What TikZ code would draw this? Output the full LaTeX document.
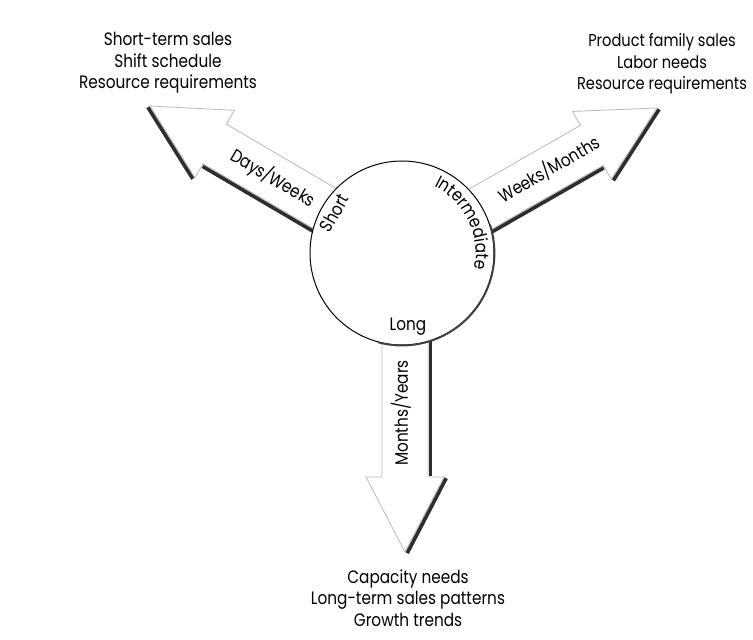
\documentclass[tikz,border=0pt]{standalone}
\usepackage{fontspec}
\setmainfont[FakeStretch=0.85]{Poppins}
\usetikzlibrary{decorations.text}
\newcommand\lblfont{\fontsize{18}{21.5}\selectfont}
\newcommand\planarrow[4]{% tip, angle, length, side
  \begin{scope}[shift={#1},rotate=#2,yscale=#4]
    \draw[arrowbody] (0,0) -- (-75,39) -- (-75,23) -- (-#3,23) -- (-#3,-23) -- (-75,-23) -- (-75,-39) -- cycle;
    \draw[shadowline] (1.2,2.2) -- (-73.8,41.2);
    \draw[shadowline] (-76,25.5) -- (-#3,25.5);
  \end{scope}}
\begin{document}
\begin{tikzpicture}[x=1pt,y=1pt,
  lbl/.style={font=\lblfont, inner sep=0pt},
  blk/.style={lbl, align=center},
  arrowbody/.style={draw=gray!55, line width=0.8pt, fill=white},
  shadowline/.style={draw=black!82, line width=3.6pt}]
\useasboundingbox (0,0) rectangle (753,640);
% arrows
\planarrow{(150,534)}{149.6}{292}{1}
\planarrow{(657,532)}{29.8}{293}{-1}
\planarrow{(405,88)}{-90}{299}{1}
% hub
\node[circle, draw=black, line width=1pt, fill=white, minimum size=184pt, inner sep=0pt] (hub) at (402,387) {};
\draw[black!75, line width=1.8pt] ([shift={(-105:92.5)}]hub.center) arc[start angle=-105, end angle=18, radius=92.5];
% circle labels
\node[lbl, rotate=60] (short) at (334,427) {Short};
\node[lbl] (long) at (408,313) {Long};
\path[decorate, decoration={text along path, text={|\lblfont|Intermediate}, text align=center}]
  ([shift={(70:74)}]hub.center) arc[start angle=70, end angle=-18, radius=74];
% arrow labels
\node[lbl, rotate=-30.4] (dw) at (273,462) {Days/Weeks};
\node[lbl, rotate=30.2] (wm) at (549,471) {Weeks/Months};
\node[lbl, rotate=90] (my) at (401,227) {Months/Years};
% outcome blocks
\node[blk] (tl) at (168,577) {Short-term sales\\Shift schedule\\Resource requirements};
\node[blk, font=\fontsize{17.2}{21.5}\selectfont] (tr) at (662,576) {Product family sales\\Labor needs\\Resource requirements};
\node[blk] (bt) at (408,42) {Capacity needs\\Long-term sales patterns\\Growth trends};
\end{tikzpicture}
\end{document}
